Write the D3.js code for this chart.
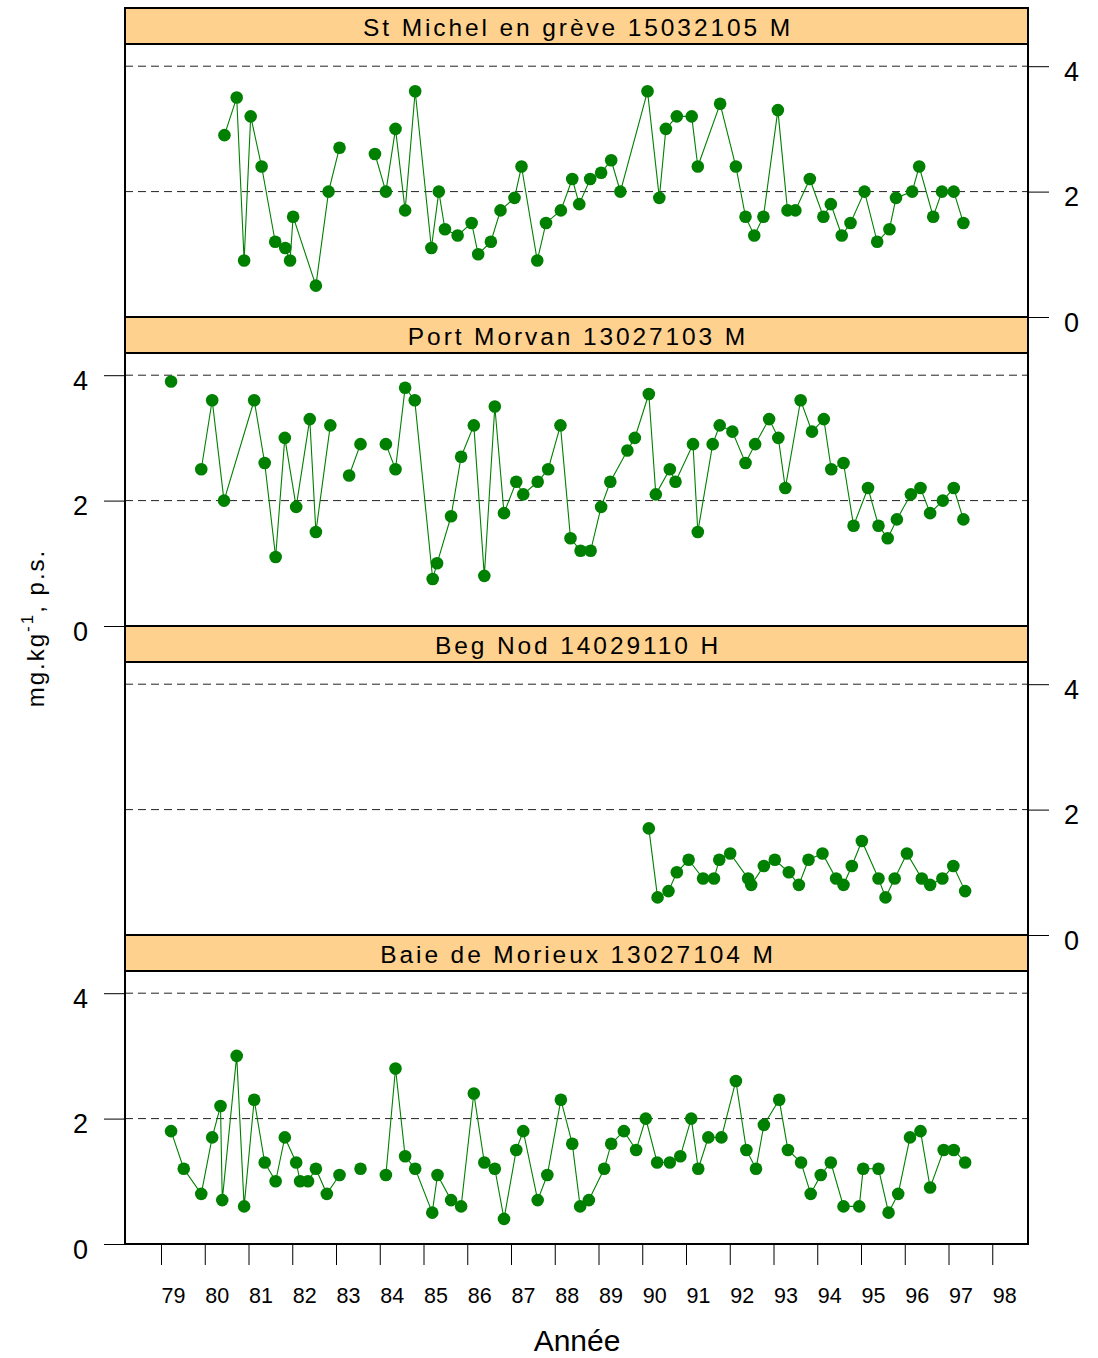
<!DOCTYPE html>
<html>
<head>
<meta charset="utf-8">
<script src="https://cdn.jsdelivr.net/npm/d3@7"></script>
<style>
  body { margin: 0; background: #fff; }
  svg { display: block; font-family: "Liberation Sans", Arial, sans-serif; }
</style>
</head>
<body>
<svg id="chart" width="1098" height="1358"></svg>
<script>
// ---------------- DATA ----------------
const stationNames = [
  "St Michel en grève 15032105 M",
  "Port Morvan 13027103 M",
  "Beg Nod 14029110 H",
  "Baie de Morieux 13027104 M"
];

const yearTicks = [79,80,81,82,83,84,85,86,87,88,89,90,91,92,93,94,95,96,97,98];
const valueTicks = [0, 2, 4];
const refLines = [2, 4];

// null = break in the series
const stMichelDates = [80.45,80.73,80.90,81.05,81.30,81.61,81.84,81.95,82.02,82.54,82.83,83.08,null,
  83.89,84.14,84.36,84.58,84.81,85.18,85.35,85.49,85.78,86.10,86.25,86.54,86.76,87.08,87.24,87.60,87.80,
  88.14,88.40,88.56,88.81,89.06,89.29,89.50,90.12,90.39,90.54,90.79,91.13,91.27,91.78,92.14,92.36,92.56,
  92.77,93.10,93.32,93.50,93.83,94.14,94.31,94.56,94.76,95.08,95.37,95.65,95.80,96.17,96.33,96.65,96.85,
  97.12,97.34];
const stMichelValues = [2.9,3.5,0.9,3.2,2.4,1.2,1.1,0.9,1.6,0.5,2.0,2.7,null,
  2.6,2.0,3.0,1.7,3.6,1.1,2.0,1.4,1.3,1.5,1.0,1.2,1.7,1.9,2.4,0.9,1.5,
  1.7,2.2,1.8,2.2,2.3,2.5,2.0,3.6,1.9,3.0,3.2,3.2,2.4,3.4,2.4,1.6,1.3,
  1.6,3.3,1.7,1.7,2.2,1.6,1.8,1.3,1.5,2.0,1.2,1.4,1.9,2.0,2.4,1.6,2.0,
  2.0,1.5];

const portMorvanDates = [79.23,null,79.92,80.17,80.44,81.13,81.37,81.62,81.83,82.09,82.40,82.54,82.87,null,
  83.30,83.56,null,84.14,84.36,84.58,84.80,85.21,85.31,85.63,85.86,86.15,86.39,86.63,86.84,87.12,87.28,
  87.61,87.85,88.13,88.36,88.59,88.82,89.06,89.27,89.66,89.83,90.15,90.31,90.63,90.76,91.16,91.27,91.61,
  91.77,92.06,92.36,92.58,92.90,93.11,93.27,93.62,93.88,94.15,94.32,94.60,94.83,95.16,95.40,95.61,95.82,
  96.14,96.36,96.58,96.87,97.12,97.34];
const portMorvanValues = [3.9,null,2.5,3.6,2.0,3.6,2.6,1.1,3.0,1.9,3.3,1.5,3.2,null,
  2.4,2.9,null,2.9,2.5,3.8,3.6,0.75,1.0,1.75,2.7,3.2,0.8,3.5,1.8,2.3,2.1,
  2.3,2.5,3.2,1.4,1.2,1.2,1.9,2.3,2.8,3.0,3.7,2.1,2.5,2.3,2.9,1.5,2.9,
  3.2,3.1,2.6,2.9,3.3,3.0,2.2,3.6,3.1,3.3,2.5,2.6,1.6,2.2,1.6,1.4,1.7,
  2.1,2.2,1.8,2.0,2.2,1.7];

const begNodDates = [90.15,90.35,90.60,90.79,91.06,91.39,91.64,91.76,92.01,92.42,92.49,92.78,93.03,93.35,
  93.58,93.80,94.12,94.43,94.60,94.79,95.02,95.40,95.56,95.77,96.05,96.39,96.58,96.86,97.11,97.38];
const begNodValues = [1.7,0.6,0.7,1.0,1.2,0.9,0.9,1.2,1.3,0.9,0.8,1.1,1.2,1.0,
  0.8,1.2,1.3,0.9,0.8,1.1,1.5,0.9,0.6,0.9,1.3,0.9,0.8,0.9,1.1,0.7];

const morieuxDates = [79.23,79.52,79.92,80.17,80.36,80.40,80.73,80.90,81.13,81.37,81.62,81.83,82.09,82.18,
  82.36,82.54,82.79,83.08,null,83.56,null,84.14,84.36,84.58,84.81,85.20,85.32,85.63,85.86,86.15,86.39,
  86.63,86.84,87.12,87.28,87.61,87.83,88.14,88.40,88.58,88.78,89.13,89.29,89.58,89.86,90.08,90.34,90.63,
  90.87,91.12,91.28,91.51,91.81,92.14,92.38,92.60,92.78,93.13,93.33,93.63,93.85,94.08,94.31,94.60,94.96,
  95.05,95.40,95.63,95.85,96.12,96.36,96.58,96.89,97.12,97.38];
const morieuxValues = [1.8,1.2,0.8,1.7,2.2,0.7,3.0,0.6,2.3,1.3,1.0,1.7,1.3,1.0,
  1.0,1.2,0.8,1.1,null,1.2,null,1.1,2.8,1.4,1.2,0.5,1.1,0.7,0.6,2.4,1.3,
  1.2,0.4,1.5,1.8,0.7,1.1,2.3,1.6,0.6,0.7,1.2,1.6,1.8,1.5,2.0,1.3,1.3,
  1.4,2.0,1.2,1.7,1.7,2.6,1.5,1.2,1.9,2.3,1.5,1.3,0.8,1.1,1.3,0.6,0.6,
  1.2,1.2,0.5,0.8,1.7,1.8,0.9,1.5,1.5,1.3];

const panels = [
  { name: stationNames[0], dates: stMichelDates,  values: stMichelValues,  axis: "right" },
  { name: stationNames[1], dates: portMorvanDates, values: portMorvanValues, axis: "left" },
  { name: stationNames[2], dates: begNodDates,    values: begNodValues,    axis: "right" },
  { name: stationNames[3], dates: morieuxDates,   values: morieuxValues,   axis: "left" }
];

// ---------------- LAYOUT ----------------
const svg = d3.select("#chart");
const left = 125, right = 1028;
const top0 = 8, pitch = 309, stripH = 36, plotH = 273;
const green = "#008000";

const x = d3.scaleLinear().domain([78.177, 98.817]).range([left, right]);

panels.forEach((p, i) => {
  const pTop = top0 + i * pitch;
  const plotTop = pTop + stripH;
  const plotBot = plotTop + plotH;
  const y = d3.scaleLinear().domain([0, plotH / 62.7]).range([plotBot, plotTop]);
  const g = svg.append("g");

  // reference dashed lines
  g.selectAll("line.ref").data(refLines).enter().append("line")
    .attr("x1", left).attr("x2", right)
    .attr("y1", d => y(d)).attr("y2", d => y(d))
    .attr("stroke", "#222").attr("stroke-width", 1)
    .attr("stroke-dasharray", "8,5");

  // data
  const pts = p.dates.map((d, k) => ({ t: d, v: p.values[k] }));
  const line = d3.line().defined(d => d.v != null && d.t != null)
    .x(d => x(d.t)).y(d => y(d.v));
  g.append("path").datum(pts).attr("d", line)
    .attr("fill", "none").attr("stroke", green).attr("stroke-width", 1.1);
  g.selectAll("circle").data(pts.filter(d => d.v != null)).enter().append("circle")
    .attr("cx", d => x(d.t)).attr("cy", d => y(d.v)).attr("r", 6.3)
    .attr("fill", green);

  // strip
  g.append("rect").attr("x", left).attr("y", pTop).attr("width", right - left).attr("height", stripH)
    .attr("fill", "#FFD18E").attr("stroke", "#000").attr("stroke-width", 2);
  g.append("text").attr("x", (left + right) / 2 + 1.5).attr("y", pTop + 28)
    .attr("text-anchor", "middle").attr("font-size", 24.5).attr("letter-spacing", "2.9px")
    .attr("fill", "#000").text(p.name);

  // plot border
  g.append("rect").attr("x", left).attr("y", plotTop).attr("width", right - left).attr("height", plotH)
    .attr("fill", "none").attr("stroke", "#000").attr("stroke-width", 2);

  // y axis
  const axis = p.axis === "right" ? d3.axisRight(y) : d3.axisLeft(y);
  axis.tickValues(valueTicks).tickSize(21).tickPadding(p.axis === "right" ? 15 : 16).tickFormat(d3.format("d"));
  const ag = g.append("g")
    .attr("transform", `translate(${p.axis === "right" ? right : left},0)`)
    .call(axis);
  ag.select(".domain").remove();
  ag.selectAll(".tick line").attr("stroke", "#000").attr("stroke-width", 1);
  ag.selectAll(".tick text").attr("font-size", 27).attr("fill", "#000")
    .attr("font-family", "Liberation Sans, Arial, sans-serif")
    .attr("dy", "0.52em");
});

// x axis
const xAxis = d3.axisBottom(x).tickValues(yearTicks).tickSize(21).tickPadding(23).tickFormat(d => d);
const xg = svg.append("g").attr("transform", `translate(0,${top0 + 3 * pitch + stripH + plotH})`).call(xAxis);
xg.select(".domain").remove();
xg.selectAll(".tick line").attr("stroke", "#000").attr("stroke-width", 1);
xg.selectAll(".tick text").attr("font-size", 21.5).attr("fill", "#000").attr("x", 12)
  .attr("font-family", "Liberation Sans, Arial, sans-serif");

// axis titles
svg.append("text").attr("x", 577).attr("y", 1351).attr("text-anchor", "middle")
  .attr("font-size", 30).attr("fill", "#000").text("Année");

const yl = svg.append("text")
  .attr("transform", "translate(44,628) rotate(-90)")
  .attr("text-anchor", "middle").attr("font-size", 24).attr("fill", "#000")
  .attr("letter-spacing", "2px");
yl.append("tspan").text("mg.kg");
yl.append("tspan").attr("dy", -11).attr("font-size", 17).text("-1");
yl.append("tspan").attr("dy", 11).text(", p.s.");
</script>
</body>
</html>
